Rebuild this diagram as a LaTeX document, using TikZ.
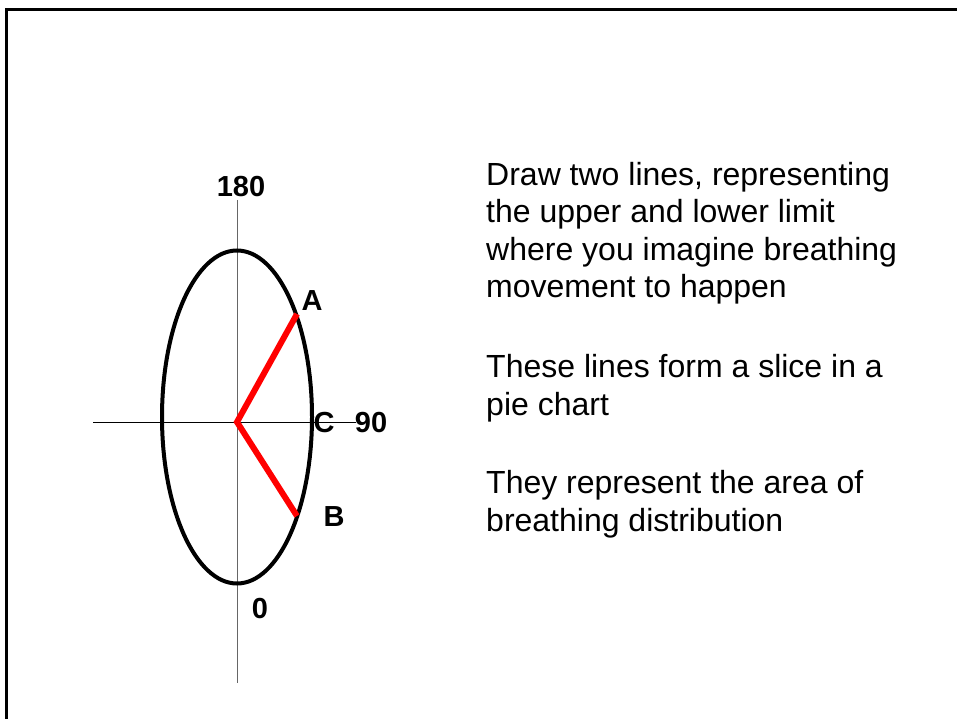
\documentclass[tikz,border=0pt]{standalone}
\usepackage{fontspec}
\setmainfont{Liberation Sans}
\usepackage{tikz}

\tikzset{
	lbl/.style={font=\fontsize{29}{30}\selectfont\bfseries, inner sep=0pt},
	para/.style={font=\fontsize{32}{37.5}\selectfont, align=left, inner sep=0pt, anchor=base west}
}

\begin{document}
\begin{tikzpicture}[x=1pt, y=-1pt]
		\useasboundingbox (0, 0) rectangle (957, 719);
		\draw [line width=3pt] (6, 719) -- (6, 9.5) -- (957, 9.5);
		% axes
		\coordinate (O) at (237, 422);
		\draw [gray!80!black, line width=1pt] (237, 200) -- (237, 683);
		\draw [line width=1pt] (93, 422) -- (356, 422);
		\draw [line width=4pt] (237, 417) ellipse [x radius=75, y radius=166.5];
		% slice
		\coordinate (A) at (297, 314);
		\coordinate (B) at (297, 516);
		\draw [red, line width=6pt] (A) -- (O) -- (B);
		\node [lbl] (top) at (241, 187) {180};
		\node [lbl] (bot) at (260, 609) {0};
		\node [lbl] (la) at (312, 301) {A};
		\node [lbl] (lb) at (334, 517) {B};
		\node [lbl] (lc) at (324, 423) {C};
		\node [lbl] (ninety) at (371, 423) {90};
		% text (anchored at the baseline of the last line)
		\node [para] (p1) at (486, 297.5) {Draw two lines, representing\\the upper and lower limit\\where you imagine breathing\\movement to happen};
		\node [para] (p2) at (486, 415) {These lines form a slice in a\\pie chart};
		\node [para] (p3) at (486, 531) {They represent the area of\\breathing distribution};
	\end{tikzpicture}
\end{document}
